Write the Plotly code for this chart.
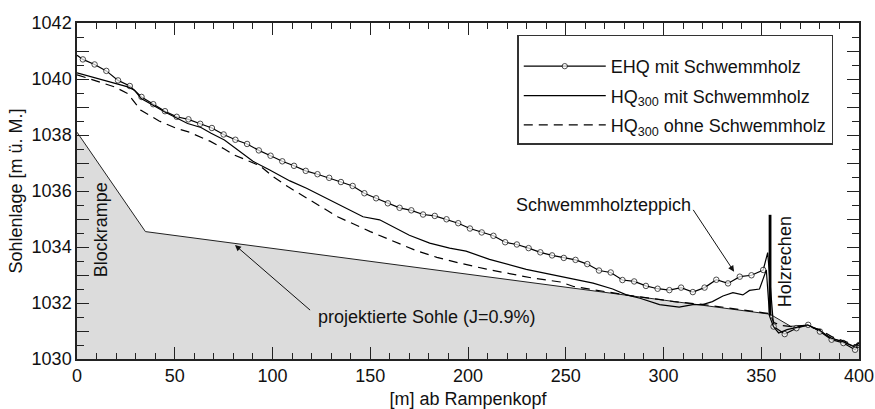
import plotly.graph_objects as go

# ---- data ----
bed_x = [0, 35, 354.5, 365, 374, 380, 386, 392, 398, 400]
bed_y = [1038.10, 1034.55, 1031.60, 1031.17, 1031.20, 1031.00, 1030.74, 1030.60, 1030.42, 1030.45]

ehq_x = [0, 3, 9, 15, 21, 27, 33, 39, 45, 51, 57, 63, 69, 75, 81, 87, 93, 99, 105, 111,
         117, 123, 129, 135, 141, 147, 153, 159, 165, 171, 177, 183, 189, 195, 201, 207, 213, 219, 225, 231,
         237, 243, 249, 255, 261, 267, 273, 279, 285, 291, 297, 303, 309, 315, 321, 327, 333, 339, 345, 351,
         353.3, 356.3, 362, 368, 374, 380, 386, 392, 398, 400]
ehq_y = [1040.85, 1040.70, 1040.52, 1040.29, 1039.95, 1039.75, 1039.36, 1039.10, 1038.85, 1038.65,
         1038.56, 1038.40, 1038.25, 1038.02, 1037.83, 1037.68, 1037.45, 1037.26, 1037.06, 1036.90,
         1036.72, 1036.60, 1036.47, 1036.32, 1036.18, 1035.92, 1035.74, 1035.56, 1035.40, 1035.31,
         1035.16, 1035.11, 1034.99, 1034.85, 1034.66, 1034.52, 1034.40, 1034.17, 1034.09, 1033.96,
         1033.81, 1033.70, 1033.61, 1033.54, 1033.39, 1033.16, 1033.09, 1032.82, 1032.77, 1032.61,
         1032.51, 1032.46, 1032.55, 1032.39, 1032.55, 1032.83, 1032.70, 1032.94, 1032.99, 1033.18,
         1033.80, 1031.16, 1030.89, 1031.10, 1031.22, 1030.98, 1030.69, 1030.57, 1030.33, 1030.50]

hq_mit_x = [0, 10.6, 17.4, 26, 29.4, 32.8, 38.7, 44.7, 51.5, 56.6, 63.4, 68.6, 75.4, 80.5, 90, 98.6,
            108.9, 117.4, 127.6, 137.8, 146.3, 154.8, 165, 170, 180.4, 190.6, 199, 211, 229.8, 242,
            251, 257, 264, 274, 281, 288, 293, 298, 308, 315, 320, 325, 330.4, 335.5, 340.6, 344,
            349.1, 352.6, 354.3, 356.2, 358.9, 363.2, 368.1, 373.6, 379.5, 385.5, 391.5, 397.4, 400]
hq_mit_y = [1040.22, 1040.02, 1039.90, 1039.72, 1039.60, 1039.30, 1039.07, 1038.83, 1038.59, 1038.41,
            1038.27, 1038.06, 1037.82, 1037.56, 1037.06, 1036.75, 1036.36, 1036.10, 1035.74, 1035.38,
            1035.08, 1034.97, 1034.61, 1034.42, 1034.14, 1033.96, 1033.85, 1033.56, 1033.20, 1033.02,
            1032.88, 1032.80, 1032.71, 1032.50, 1032.29, 1032.17, 1032.05, 1031.94, 1031.85, 1031.94,
            1031.94, 1032.05, 1032.25, 1032.37, 1032.29, 1032.45, 1032.50, 1033.18, 1031.52, 1031.16,
            1030.93, 1031.05, 1031.13, 1031.22, 1031.04, 1030.75, 1030.63, 1030.45, 1030.57]

hq_ohne_x = [0, 8.9, 19.2, 26, 32.5, 42, 50.7, 57, 68, 75.4, 80, 93.6, 100.4, 108, 115.8, 125.5,
             133.3, 150, 160.2, 173.5, 184.1, 196, 209.5, 222.5, 233, 247.3, 254, 264.3, 272.9, 286.5,
             296.8, 305.3, 320, 340, 354.3, 356.5, 360, 366, 372, 380, 386, 392, 398, 400]
hq_ohne_y = [1040.15, 1039.96, 1039.72, 1039.48, 1038.89, 1038.50, 1038.24, 1038.11, 1037.78, 1037.50,
             1037.30, 1036.90, 1036.51, 1036.15, 1035.82, 1035.44, 1035.08, 1034.55, 1034.25, 1033.87,
             1033.63, 1033.42, 1033.21, 1033.02, 1032.89, 1032.75, 1032.59, 1032.47, 1032.37, 1032.23,
             1032.14, 1032.05, 1031.95, 1031.75, 1031.62, 1031.30, 1031.20, 1031.15, 1031.20, 1031.05,
             1030.80, 1030.65, 1030.50, 1030.55]

rake_x = [354.5, 354.5]
rake_y = [1031.55, 1035.15]

names = ["EHQ mit Schwemmholz",
         "HQ<sub>300</sub> mit Schwemmholz",
         "HQ<sub>300</sub> ohne Schwemmholz"]

FONT = "Arial, Liberation Sans, sans-serif"
FS = 18

fig = go.Figure()

fig.add_trace(go.Scatter(x=bed_x, y=bed_y, mode="lines", fill="tozeroy",
                         fillcolor="#dcdcdc", line=dict(color="#222", width=1),
                         showlegend=False, hoverinfo="skip"))

ehq_sizes = [5.5] * len(ehq_x)
ehq_sizes[0] = 0
ehq_sizes[60] = 0
fig.add_trace(go.Scatter(x=ehq_x, y=ehq_y, mode="lines+markers", name=names[0],
                         legendgroup="a",
                         line=dict(color="black", width=1.2),
                         marker=dict(symbol="circle", size=ehq_sizes, color="white",
                                     line=dict(color="black", width=1))))
fig.add_trace(go.Scatter(x=hq_mit_x, y=hq_mit_y, mode="lines", name=names[1],
                         legendgroup="b",
                         line=dict(color="black", width=1.2)))
fig.add_trace(go.Scatter(x=hq_ohne_x, y=hq_ohne_y, mode="lines", name=names[2],
                         legendgroup="c",
                         line=dict(color="black", width=1.2, dash="9px,6px")))
fig.add_trace(go.Scatter(x=rake_x, y=rake_y, mode="lines", showlegend=False,
                         line=dict(color="black", width=2.8), hoverinfo="skip"))

ann_font = dict(family=FONT, size=FS, color="#111")
fig.add_annotation(x=12.3, y=1034.6, text="Blockrampe", textangle=-90, showarrow=False, font=ann_font)
fig.add_annotation(x=362.3, y=1033.47, text="Holzrechen", textangle=-90, showarrow=False, font=ann_font)
fig.add_annotation(x=269.2, y=1035.5, text="Schwemmholzteppich", showarrow=False, font=ann_font)
fig.add_annotation(x=179.0, y=1031.5, text="projektierte Sohle (J=0.9%)", showarrow=False, font=ann_font)
# arrows
fig.add_annotation(x=80.8, y=1034.07, ax=120.0, ay=1031.7, axref="x", ayref="y", text="",
                   showarrow=True, arrowhead=2, arrowsize=1.2, arrowwidth=1, arrowcolor="#111", standoff=0)
fig.add_annotation(x=336.1, y=1033.12, ax=314.7, ay=1035.38, axref="x", ayref="y", text="",
                   showarrow=True, arrowhead=2, arrowsize=1.2, arrowwidth=1, arrowcolor="#111", standoff=0)

fig.update_layout(
    width=875, height=409,
    margin=dict(l=77, r=16, t=23, b=50),
    paper_bgcolor="white", plot_bgcolor="white",
    font=dict(family=FONT, size=FS, color="#111"),
    legend=dict(x=0.563, y=0.965, xanchor="left", yanchor="top",
                bordercolor="#333", borderwidth=1.5, bgcolor="white",
                font=dict(family=FONT, size=FS, color="#111"),
                title=dict(text="\u00a0", font=dict(size=9)),
                tracegroupgap=3, itemwidth=82),
    showlegend=True,
)
fig.update_xaxes(range=[0, 400], tick0=0, dtick=50, ticks="inside", ticklen=12, tickwidth=1,
                 tickcolor="#222", showline=True, linecolor="#222", linewidth=1.5, mirror="ticks",
                 showgrid=False, zeroline=False, automargin=False,
                 minor=dict(dtick=10, tick0=0, ticks="inside", ticklen=6, tickcolor="#222", showgrid=False),
                 title=dict(text="[m] ab Rampenkopf", standoff=7, font=dict(family=FONT, size=FS)),
                 tickfont=dict(family=FONT, size=FS))
fig.update_yaxes(range=[1030, 1042], tick0=1030, dtick=1, ticklabelstep=2, ticks="inside",
                 ticklen=12, tickwidth=1, tickcolor="#222", showline=True, linecolor="#222",
                 linewidth=1.5, mirror="ticks", showgrid=False, zeroline=False, automargin=False,
                 minor=dict(dtick=0.5, tick0=1030, ticks="inside", ticklen=7, tickcolor="#222", showgrid=False),
                 title=dict(text="Sohlenlage [m ü. M.]", standoff=4, font=dict(family=FONT, size=FS)),
                 tickfont=dict(family=FONT, size=FS))

fig.write_html("out.html")
